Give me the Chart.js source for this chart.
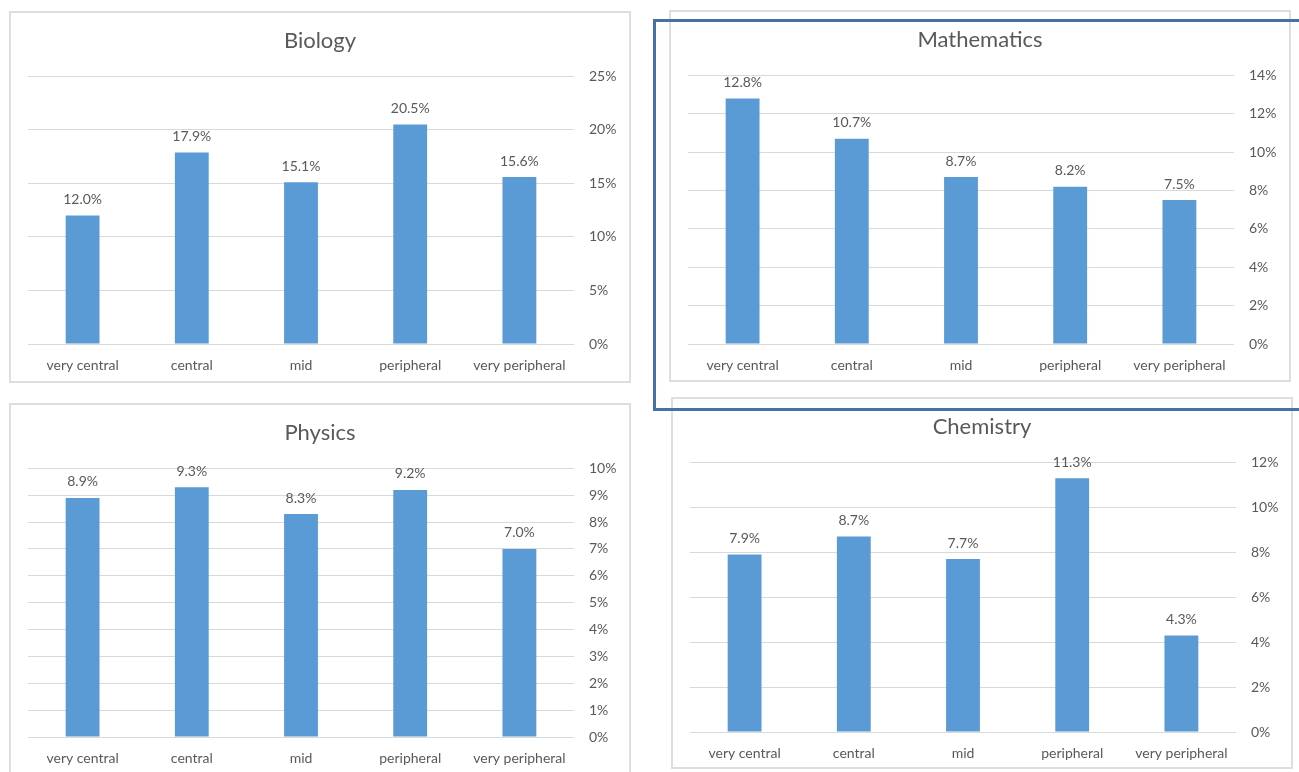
<!DOCTYPE html>
<html>
<head>
<meta charset="utf-8">
<script src="https://cdn.jsdelivr.net/npm/chart.js@4.4.1/dist/chart.umd.min.js"></script>
<style>
  body { margin: 0; background: #fff; width: 1299px; height: 772px; overflow: hidden; position: relative; }
  .panel { position: absolute; width: 622px; height: 372px; box-sizing: border-box; border: 2px solid #dedede; background: #fff; }
  .panel canvas { display: block; }
  #frame { position: absolute; left: 653px; top: 19px; width: 660px; height: 392px; box-sizing: border-box; border: 3px solid #4672a3; pointer-events: none; }
</style>
</head>
<body>
<div class="panel" style="left:9px; top:11px;"><canvas id="bio" width="618" height="368"></canvas></div>
<div class="panel" style="left:669px; top:10px;"><canvas id="math" width="618" height="368"></canvas></div>
<div class="panel" style="left:9px; top:403px;"><canvas id="phys" width="618" height="368"></canvas></div>
<div class="panel" style="left:671px; top:397px;"><canvas id="chem" width="618" height="368"></canvas></div>
<div id="frame"></div>
<script>
const categories = ['very central', 'central', 'mid', 'peripheral', 'very peripheral'];

const biology = [12.0, 17.9, 15.1, 20.5, 15.6];
const mathematics = [12.8, 10.7, 8.7, 8.2, 7.5];
const physics = [8.9, 9.3, 8.3, 9.2, 7.0];
const chemistry = [7.9, 8.7, 7.7, 11.3, 4.3];

// y axis ranges (max, step) in percent
const biologyAxis = [25, 5];
const mathematicsAxis = [14, 2];
const physicsAxis = [10, 1];
const chemistryAxis = [12, 2];

const textColor = '#595959';
const fontFamily = 'Lato, "Open Sans", sans-serif';

// draws the value above each bar
const barLabels = {
    id: 'barLabels',
    afterDatasetsDraw(chart) {
        const ctx = chart.ctx;
        ctx.save();
        ctx.font = '14px ' + fontFamily;
        ctx.fillStyle = textColor;
        ctx.textAlign = 'center';
        ctx.textBaseline = 'bottom';
        chart.getDatasetMeta(0).data.forEach((bar, i) => {
            const v = chart.data.datasets[0].data[i];
            ctx.fillText(v.toFixed(1) + '%', bar.x, bar.y - 9);
        });
        ctx.restore();
    }
};

function makeChart(id, title, values, axis, xHeight) {
    new Chart(document.getElementById(id), {
        type: 'bar',
        data: {
            labels: categories,
            datasets: [{
                data: values,
                backgroundColor: '#5b9bd5',
                barPercentage: 0.31,
                categoryPercentage: 1
            }]
        },
        options: {
            responsive: false,
            animation: false,
            layout: { padding: 0 },
            plugins: {
                legend: { display: false },
                tooltip: { enabled: false },
                title: {
                    display: true,
                    text: title,
                    color: textColor,
                    font: { family: fontFamily, size: 22, weight: 'normal' },
                    padding: { top: 15, bottom: 22 }
                }
            },
            scales: {
                x: {
                    grid: { display: false },
                    border: { display: false },
                    ticks: { color: textColor, font: { family: fontFamily, size: 14 }, padding: 5, maxRotation: 0 },
                    afterFit: s => { s.height = xHeight; }
                },
                y: {
                    position: 'right',
                    min: 0,
                    max: axis[0],
                    grid: { color: '#d9d9d9', drawTicks: false },
                    border: { display: false },
                    ticks: {
                        stepSize: axis[1],
                        color: textColor,
                        font: { family: fontFamily, size: 14 },
                        padding: 15,
                        callback: v => v + '%'
                    },
                    afterFit: s => { s.width = 55; }
                },
                // empty left margin so the title stays centred on the panel
                spacer: {
                    type: 'linear',
                    position: 'left',
                    grid: { display: false },
                    border: { display: false },
                    ticks: { display: false },
                    afterFit: s => { s.width = 17; }
                }
            }
        },
        plugins: [barLabels]
    });
}

makeChart('bio', 'Biology', biology, biologyAxis, 37);
makeChart('math', 'Mathematics', mathematics, mathematicsAxis, 36);
makeChart('phys', 'Physics', physics, physicsAxis, 36);
makeChart('chem', 'Chemistry', chemistry, chemistryAxis, 35);
</script>
</body>
</html>
